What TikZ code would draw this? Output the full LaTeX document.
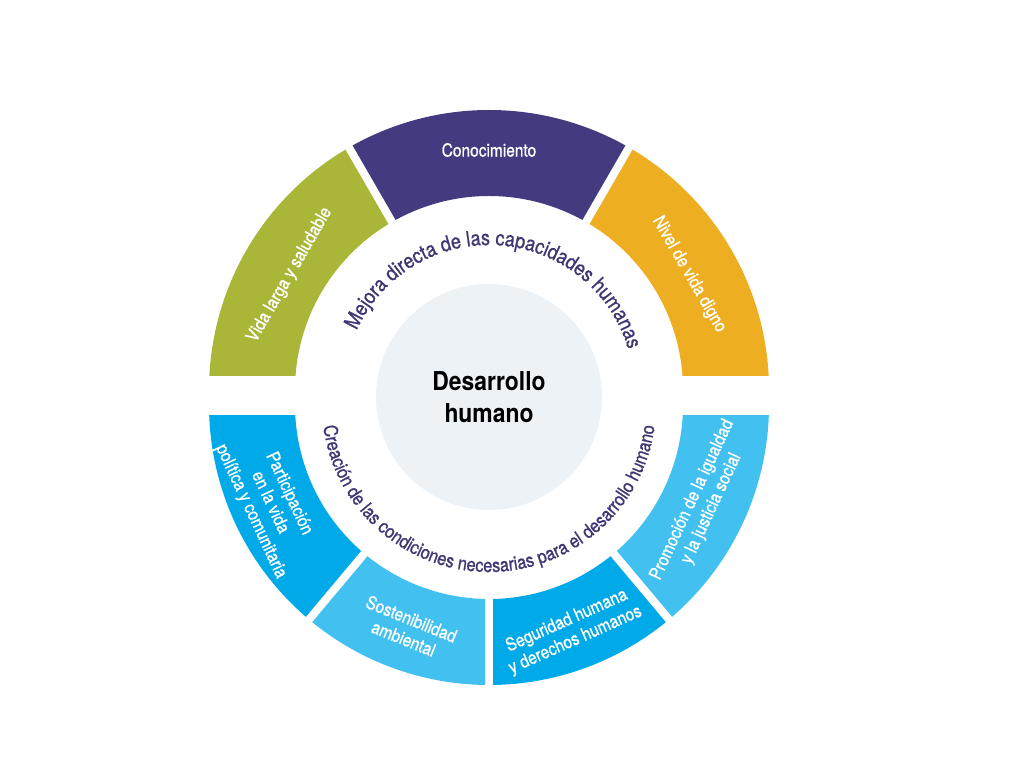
\documentclass[tikz,border=0pt]{standalone}
\usepackage{fontspec}
\setmainfont{TeX Gyre Heros}[FakeStretch=0.88]
\newfontfamily\medio{TeX Gyre Heros}[FakeStretch=0.86, FakeBold=0.9]
\usetikzlibrary{decorations.text}
\definecolor{verde}{RGB}{170,182,55}
\definecolor{morado}{RGB}{67,58,127}
\definecolor{naranja}{RGB}{237,174,34}
\definecolor{azul}{RGB}{0,169,232}
\definecolor{celeste}{RGB}{66,193,241}
\definecolor{fondo}{RGB}{237,242,247}
\definecolor{tinta}{RGB}{62,55,115}
\begin{document}
\begin{tikzpicture}[x=1pt, y=1pt,
  etiqueta/.style={inner sep=0pt, text=white, align=center, font=\medio\fontsize{18}{21}\selectfont},
  hueco/.style={white, line width=8pt}]
\useasboundingbox (0,0) rectangle (1024,768);
\begin{scope}[shift={(489,378)}]
  \begin{scope}
    \clip (-300,14) rectangle (300,300);
    \foreach \a/\b/\c in {0/60/naranja, 60/120/morado, 120/180/verde}
      \fill[\c] (\a:280pt) arc[start angle=\a, end angle=\b, radius=280pt] -- (\b:194pt) arc[start angle=\b, end angle=\a, radius=194pt] -- cycle;
  \end{scope}
  \foreach \a in {60, 120} \draw[hueco] (\a:185pt) -- (\a:290pt);
  \node[etiqueta] (conoc) at (90:240pt) {Conocimiento};
  \node[etiqueta, rotate=60] (vida) at (150:230pt) {Vida larga y saludable};
  \node[etiqueta, rotate=-60] (nivel) at (30:231pt) {Nivel de vida digno};
  \path[decorate, decoration={text along path, text align=center,
    text={|\medio\fontsize{21}{21}\selectfont\color{tinta}|Mejora directa de las capacidades humanas}}]
    (176:145pt) arc[start angle=176, end angle=-4, radius=145pt];
\end{scope}
\begin{scope}[shift={(489,363)}]
  \begin{scope}
    \clip (-300,-300) rectangle (300,-11);
    \foreach \a/\b/\c in {180/230/azul, 230/270/celeste, 270/310/azul, 310/360/celeste}
      \fill[\c] (\a:280pt) arc[start angle=\a, end angle=\b, radius=280pt] -- (\b:194pt) arc[start angle=\b, end angle=\a, radius=194pt] -- cycle;
  \end{scope}
  \foreach \a in {230, 270, 310} \draw[hueco] (\a:185pt) -- (\a:290pt);
  \node[etiqueta, rotate=-65] (part) at (204:240pt) {Participación\\en la vida\\política y comunitaria};
  \node[etiqueta, rotate=-22] (sost) at (250:238pt) {Sostenibilidad\\ambiental};
  \node[etiqueta, rotate=24] (seg) at (290:240pt) {Seguridad humana\\y derechos humanos};
  \node[etiqueta, rotate=65] (prom) at (335:235pt) {Promoción de la igualdad\\y la justicia social};
  \path[decorate, decoration={text along path, text align=center,
    text={|\medio\fontsize{19}{19}\selectfont\color{tinta}|Creación de las condiciones necesarias para el desarrollo humano}}]
    (185:167pt) arc[start angle=185, end angle=355, radius=167pt];
\end{scope}
\node[circle, fill=fondo, minimum size=226pt, inner sep=0pt, align=center,
  font=\bfseries\fontsize{26}{32}\selectfont] (nucleo) at (489,371) {Desarrollo\\humano};
\end{tikzpicture}
\end{document}
